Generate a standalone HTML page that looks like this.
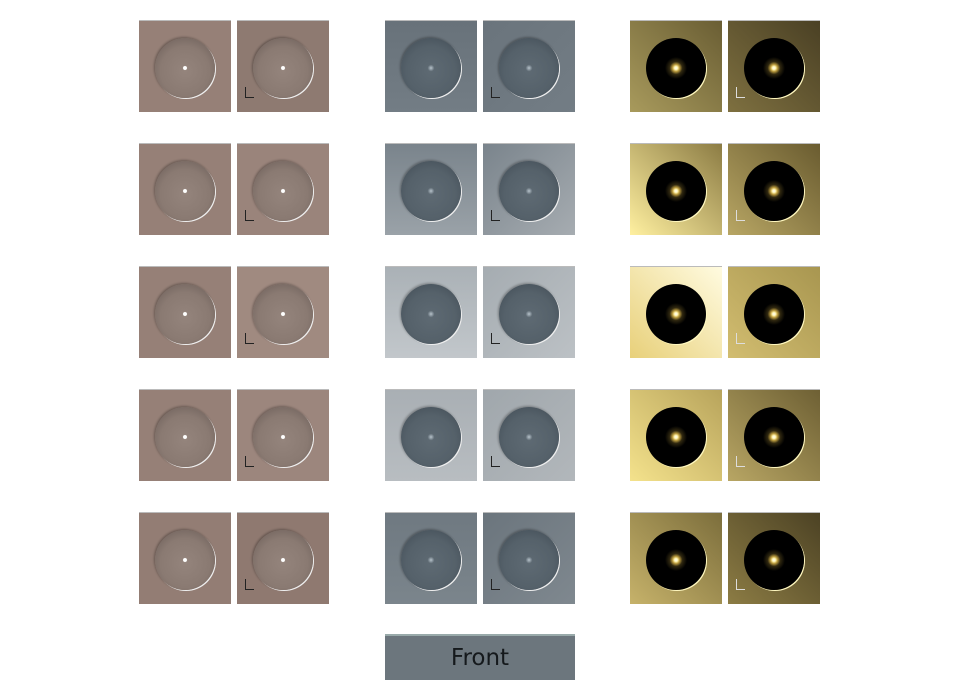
<!DOCTYPE html>
<html><head><meta charset="utf-8"><style>
body{margin:0;background:#fff;width:960px;height:700px;position:relative;overflow:hidden;font-family:"Liberation Sans","DejaVu Sans",sans-serif}
.tile{position:absolute;width:92px;height:92px;box-sizing:border-box;border-top:1px solid #bbb}
.sph{position:absolute;left:16px;top:17px;width:60px;height:60px;border-radius:50%}
.axis{position:absolute;left:8px;top:66px;width:12px;height:14px}
#front{position:absolute;left:385px;top:634px;width:190px;height:46px;background:#6c767d;border-top:2px solid #9aa;box-sizing:border-box;text-align:center;line-height:44px;font-size:23px;color:#15191c;font-family:"DejaVu Sans",sans-serif}
</style></head><body>
<div id="grid"></div>
<div id="front">Front</div>
<script>
const colX=[139,385,630];
const rowY=[20,143,266,389,512];
const bgs=[
 [["#968077","#8e7a71"],["#968077","#9a847b"],["#968077","#a08a80"],["#968077","#9c867d"],["#937d74","#8f7970"]],
 [["linear-gradient(#68727a,#737d85)","linear-gradient(135deg,#6a747c,#737d85)"],
  ["linear-gradient(#7a848c,#9aa2a8)","linear-gradient(135deg,#7a848c,#a6acb1)"],
  ["linear-gradient(#aab1b6,#c2c7cb)","linear-gradient(135deg,#a5acb1,#bcc1c5)"],
  ["linear-gradient(#a9afb4,#b8bdc1)","linear-gradient(135deg,#a0a7ac,#b2b7bb)"],
  ["linear-gradient(#6f7981,#7b858c)","linear-gradient(135deg,#6b757d,#7f888f)"]],
 [["linear-gradient(45deg,#a89a5c,#6a5e34)","linear-gradient(45deg,#7e7040,#4a4024)"],
  ["linear-gradient(45deg,#fff0a0,#8c7c44)","linear-gradient(45deg,#b8a664,#6a5c30)"],
  ["linear-gradient(45deg,#e8d07a,#fffbe0)","linear-gradient(45deg,#d2bd70,#a89650)"],
  ["linear-gradient(45deg,#f4e28c,#b8a45c)","linear-gradient(45deg,#b8a664,#6e6034)"],
  ["linear-gradient(45deg,#c6b26a,#7c6e3c)","linear-gradient(45deg,#8c7c44,#4c4224)"]]
];
const sph=["radial-gradient(circle at 50% 55%,#94847c 0,#8a7a72 55%,#72645e 85%,#5a4e48 100%)",
 "radial-gradient(circle at 50% 55%,#5e6a73 0,#55616a 55%,#46515a 85%,#39434b 100%)",
 "radial-gradient(circle at 50% 50%,#ffffff 0,#fff4b0 4%,#c0a040 8%,#302810 15%,#000 26%)"];
const spot=["radial-gradient(circle at 50% 50%,#fff 0,#fff 4%,transparent 5.5%),",
 "radial-gradient(circle at 50% 50%,#b8c4cc 0,transparent 8%),",""];
const g=document.getElementById('grid');
for(let c=0;c<3;c++)for(let r=0;r<5;r++)for(let k=0;k<2;k++){
 const t=document.createElement('div');t.className='tile';
 
 
 t.style.left=(colX[c]+k*98)+'px';t.style.top=rowY[r]+'px';t.style.background=bgs[c][r][k];
 const s=document.createElement('div');s.className='sph';
 
 
 s.style.background=spot[c]+sph[c];
 s.style.boxShadow=c==2?'1px 1px 0 #fff8c0':'1px 1px 0 #eee, -1px -1px 2px rgba(0,0,0,.3)';
 t.appendChild(s);
 if(k==1){const a=document.createElement('div');a.className='axis';
  
  
  const col=c==2?'#ddd':'#222';
  a.style.borderLeft='1px solid '+col;a.style.borderBottom='1px solid '+col;a.style.width='8px';a.style.height='10px';
  t.appendChild(a);}
 g.appendChild(t);
}
</script>
</body></html>
